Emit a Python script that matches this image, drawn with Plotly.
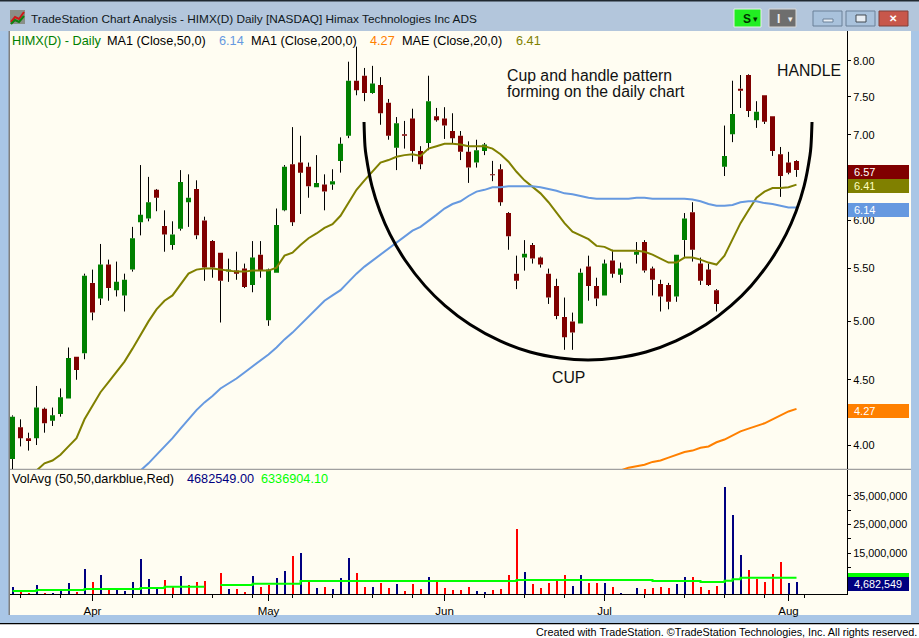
import plotly.graph_objects as go

W, H = 919, 638

opens = [3.90,4.13,4.05,4.05,4.27,4.18,4.23,4.35,4.69,4.72,
5.36,5.21,5.54,5.29,5.24,5.49,5.98,6.02,6.34,5.94,
5.74,5.91,6.20,6.35,6.00,5.78,5.66,5.47,5.48,5.50,
5.34,5.64,5.01,5.46,6.11,6.64,6.66,6.61,6.37,6.40,
6.40,6.68,6.99,7.72,7.79,7.55,7.66,7.42,6.84,7.01,
7.21,6.80,6.90,7.24,7.21,7.05,6.99,6.79,6.66,6.80,
6.52,6.58,6.08,5.45,5.61,5.74,5.61,5.45,5.33,5.04,
5.00,4.98,5.52,5.33,5.24,5.58,5.44,None,5.64,5.77,
5.50,5.35,5.34,5.23,5.79,6.09,5.55,5.49,5.29,6.61,
7.01,7.61,7.80,7.19,7.52,7.24,6.76,6.66,6.68]
highs = [4.22,4.19,4.09,4.45,4.28,4.28,4.43,4.77,4.69,5.45,
5.49,5.75,5.59,5.57,5.45,5.93,6.63,6.49,6.35,6.11,
5.99,6.57,6.52,6.45,6.04,5.79,5.66,5.60,5.67,5.55,
5.78,5.78,5.50,6.13,6.63,7.10,6.99,6.66,6.75,6.52,
6.58,6.97,7.99,8.21,7.90,7.93,7.77,7.47,7.23,7.18,
7.34,6.86,7.79,7.35,7.36,7.28,7.05,6.92,6.94,6.90,
6.68,6.64,6.09,5.63,5.79,5.76,5.62,5.50,5.40,5.22,
5.08,5.50,5.63,5.41,5.59,5.69,5.56,None,5.77,5.79,
5.52,5.39,5.36,5.64,6.08,6.20,5.61,5.55,5.30,7.12,
7.72,7.80,7.81,7.44,7.52,7.24,6.85,6.79,6.69]
lows = [3.83,3.99,3.96,4.00,4.09,4.14,4.21,4.35,4.50,4.67,
5.01,5.15,5.19,5.23,5.09,5.47,5.84,5.99,6.10,5.67,
5.69,5.89,5.93,5.80,5.38,5.41,4.99,5.37,5.39,5.31,
5.27,5.41,4.96,5.46,6.10,5.94,6.07,6.25,6.37,6.11,
6.34,6.54,6.96,7.52,7.44,7.54,7.13,6.94,6.57,6.83,
6.67,6.58,6.81,7.17,6.95,6.89,6.69,6.42,6.60,6.75,
6.44,6.16,5.69,5.30,5.48,5.55,5.51,5.16,5.02,4.75,
4.75,4.98,5.19,5.14,5.24,5.41,5.36,None,5.55,5.46,
5.24,5.09,5.11,5.18,5.61,5.57,5.34,5.33,5.09,6.50,
6.91,7.35,7.23,7.09,7.14,6.74,6.26,6.52,6.49]
closes = [4.21,4.05,4.03,4.28,4.16,4.22,4.36,4.68,4.58,5.43,
5.08,5.54,5.31,5.37,5.39,5.81,6.06,6.20,6.25,5.85,
5.85,6.43,6.25,5.84,5.51,5.51,5.38,5.49,5.45,5.32,
5.61,5.48,5.49,5.95,6.61,5.98,6.54,6.38,6.42,6.32,
6.44,6.89,7.72,7.59,7.55,7.68,7.28,6.99,7.15,6.99,
6.80,6.64,7.44,7.19,7.12,6.96,6.79,6.60,6.81,6.88,
6.51,6.20,5.83,5.38,5.65,5.60,5.54,5.22,5.05,4.86,
4.90,5.46,5.33,5.21,5.55,5.45,5.50,None,5.67,5.48,
5.39,5.23,5.18,5.64,6.02,5.69,5.38,5.34,5.16,6.74,
7.27,7.58,7.31,7.30,7.17,6.80,6.50,6.54,6.57]

ma50 = [None]*16 + [3.82,3.87,3.93,3.99,4.05,4.12,4.19,4.26,4.32,4.37,4.43,4.47,4.51,4.56,4.61,4.66,4.71,4.77,
4.84,4.90,4.97,5.04,5.11,5.19,5.24,5.29,5.37,5.45,5.52,5.58,5.64,5.70,5.76,5.83,5.89,5.93,5.99,6.06,6.13,
6.18,6.21,6.27,6.32,6.34,6.37,6.37,6.38,6.38,6.38,6.38,6.37,6.35,6.33,6.30,6.29,6.27,6.25,6.24,6.24,6.24,
6.24,6.24,6.25,6.25,6.24,6.24,6.24,6.24,6.24,6.23,6.21,6.18,6.16,6.16,6.17,6.20,6.21,6.21,6.19,6.18,6.16,
6.14,6.14]
ma200 = [None]*76 + [3.82,3.84,3.85,3.86,3.88,3.89,3.91,3.93,3.95,3.96,3.98,3.99,4.02,4.04,4.07,4.10,4.12,
4.14,4.16,4.19,4.22,4.25,4.27]
mae = [None]*3 + [3.82,3.87,3.89,3.93,3.99,4.05,4.19,4.29,4.40,4.48,4.56,4.65,4.76,4.88,5.00,5.11,5.19,5.24,
5.35,5.45,5.49,5.50,5.50,5.49,5.48,5.47,5.47,5.48,5.48,5.48,5.51,5.63,5.66,5.74,5.81,5.86,5.92,5.96,6.05,
6.19,6.34,6.45,6.55,6.66,6.69,6.73,6.75,6.76,6.74,6.83,6.86,6.89,6.89,6.88,6.86,6.86,6.86,6.83,6.76,6.67,
6.55,6.45,6.38,6.30,6.20,6.09,5.97,5.88,5.84,5.80,5.73,5.72,5.68,5.68,5.68,5.68,5.67,5.64,5.60,5.56,5.56,
5.61,5.61,5.59,5.56,5.54,5.63,5.80,5.97,6.11,6.25,6.32,6.36,6.36,6.37,6.40]

volume_m = [3.1,1.3,1.0,3.8,1.0,1.0,1.7,4.5,1.3,9.4,
4.8,7.3,2.7,2.0,1.7,4.8,12.9,5.9,2.4,5.5,
3.4,6.9,3.8,4.8,5.2,None,8.0,2.4,2.4,1.3,
6.9,3.1,3.8,6.2,8.7,14.0,15.0,4.8,2.7,3.1,
2.4,6.2,13.2,8.0,3.1,3.1,4.5,2.7,4.1,1.7,
4.1,2.4,6.6,5.5,2.7,2.0,2.0,3.1,1.7,1.3,
2.0,2.4,7.3,23.4,8.3,4.1,2.7,4.5,5.5,7.3,
3.4,7.3,4.5,4.5,4.5,3.1,1.0,None,2.7,2.4,
2.7,3.1,2.7,4.1,6.6,6.6,3.1,2.0,3.4,38.2,
28.3,14.3,9.0,5.9,4.8,7.6,11.8,4.5,4.68]
volume_side = list("brrbrbbbrb" "rbrbbbbbbr" "rbrrrrrbrr" "brrbbrbrbr" "bbbrrbrrbr"
                   "rrbrrrrrbb" "rrrrbrrrrr" "bbrrbrbbbr" "rrrbbrrrrb" "bbrrrrrbb")
volume_avg_m = [1.67,1.67,1.67,2.02,2.02,2.02,2.02,2.02,2.02,2.37,
2.37,2.37,2.37,2.37,2.37,2.37,2.72,2.72,2.72,3.19,
3.19,3.19,3.19,3.19,3.19,None,3.77,3.77,3.77,3.77,
4.24,4.24,4.24,4.24,4.24,4.24,5.18,5.18,5.18,5.18,
5.18,5.18,5.18,5.18,5.18,5.18,5.18,5.18,5.18,5.18,
5.18,5.18,5.18,5.18,5.18,5.18,5.18,5.18,5.18,5.18,
5.18,5.18,5.18,5.53,5.53,5.53,5.53,5.53,5.53,5.53,
5.53,5.53,5.53,5.53,5.53,5.53,5.53,5.53,5.53,5.53,
5.18,5.18,5.18,5.18,5.18,5.18,4.82,4.82,4.82,5.29,
5.76,6.34,6.34,6.34,6.34,6.34,6.34,6.34,6.34]

cup_x = [43.94,44.06,44.19,44.94,45.94,47.19,49.06,51.56,54.06,57.19,60.94,64.69,68.44,71.94,
         75.44,79.19,82.94,86.69,89.81,92.31,94.81,96.69,97.94,98.94,99.69,99.81,99.94]
cup_price = [7.166,6.862,6.752,6.379,6.096,5.850,5.586,5.331,5.145,4.972,4.827,4.731,4.680,4.664,
             4.680,4.731,4.827,4.972,5.145,5.331,5.586,5.850,6.096,6.379,6.752,6.862,7.166]

month_pos = [10, 32, 54, 74, 97]
month_labels = ["Apr", "May", "Jun", "Jul", "Aug"]
minor_x = [1, 6, 15, 20, 25, 30, 35, 40, 45, 50, 59, 64, 69, 79, 84, 89, 94, 99]
price_ticks = [4.0, 4.5, 5.0, 5.5, 6.0, 7.0, 7.5, 8.0]
price_labels = ["4.00", "4.50", "5.00", "5.50", "6.00", "7.00", "7.50", "8.00"]
vol_ticks = [15, 25, 35]
vol_labels = ["15,000,000", "25,000,000", "35,000,000"]
vol_minor = [10, 20, 30]

FONT = "Liberation Sans"
idx = list(range(len(closes)))


def px(x):
    return x / W


def py(y):
    return 1 - y / H


def rect(x0, y0, x1, y1, color, line=None, layer="below"):
    return dict(type="rect", xref="paper", yref="paper", x0=px(x0), x1=px(x1), y0=py(y0), y1=py(y1),
                fillcolor=color, line=dict(width=1 if line else 0, color=line or color), layer=layer)


def zigzag(points, color):
    path = " ".join(("M" if k == 0 else "L") + f"{px(x):.5f},{py(y):.5f}" for k, (x, y) in enumerate(points))
    return dict(type="path", xref="paper", yref="paper", path=path, line=dict(color=color, width=2))


def label(x, y, text, color="#000000", size=12.7, anchor="left"):
    return dict(xref="paper", yref="paper", x=px(x), y=py(y), text=text, showarrow=False,
                xanchor=anchor, yanchor="middle", align="left", borderpad=0,
                font=dict(family=FONT, size=size, color=color))


# wick segments, leaving the body to the candlestick trace
wx, wy = [], []
for i, o, h, l, c in zip(idx, opens, highs, lows, closes):
    if c is None:
        continue
    wx += [i, i, None, i, i, None]
    wy += [h, max(o, c), None, min(o, c), l, None]

fig = go.Figure()
fig.add_trace(go.Bar(x=idx, y=volume_m, yaxis="y2", width=0.25,
                     marker=dict(color=["#000080" if s == "b" else "#FF0000" for s in volume_side], line_width=0)))
fig.add_trace(go.Scatter(x=idx, y=volume_avg_m, yaxis="y2", mode="lines",
                         line=dict(color="#00FF00", width=2, shape="hv")))
fig.add_trace(go.Candlestick(x=idx, open=opens, high=highs, low=lows, close=closes,
                             increasing=dict(line=dict(color="#008000", width=0), fillcolor="#008000"),
                             decreasing=dict(line=dict(color="#800000", width=0), fillcolor="#800000"),
                             whiskerwidth=0))
fig.add_trace(go.Scatter(x=wx, y=wy, mode="lines", line=dict(color="#000000", width=1)))
fig.add_trace(go.Scatter(x=idx, y=mae, mode="lines", line=dict(color="#808000", width=2)))
fig.add_trace(go.Scatter(x=idx, y=ma50, mode="lines", line=dict(color="#6699E0", width=2)))
fig.add_trace(go.Scatter(x=idx, y=ma200, mode="lines", line=dict(color="#FF8000", width=2)))
fig.add_trace(go.Scatter(x=cup_x, y=cup_price, mode="lines", line=dict(color="#000000", width=3, shape="spline")))

shapes = [
    rect(0, 0, W, 624, "#A9C6E6"),
    rect(0, 0, W, 31, "#B3C6DC"),
    rect(0, 0, W, 1.5, "#202830"),
    rect(0, 623, W, 624.5, "#000000"),
    rect(0, 624.5, W, H, "#FFFFFF"),
    rect(9, 31, 911, 615, "#FFFDF2"),
    rect(8.5, 31, 10, 615, "#808080"),
    rect(10, 468.8, 911, 470, "#A0A0A0"),
    # last-value flags
    rect(848, 165, 909, 179, "#800000", layer="above"),
    rect(848, 179, 909, 193, "#808000", layer="above"),
    rect(848, 203, 909, 217, "#6699E0", layer="above"),
    rect(848, 404, 909, 418, "#FF8000", layer="above"),
    rect(848, 573, 909, 577, "#00FF00", layer="above"),
    rect(848, 577, 909, 591, "#000080", layer="above"),
    # window icon and buttons
    rect(10, 10, 25, 24, "#8A8F88"),
    zigzag([(11, 22), (15, 17), (19, 19), (24, 12)], "#D01818"),
    zigzag([(11, 24), (15, 20), (19, 22), (24, 16)], "#108010"),
    rect(734, 9, 761, 27, "#22EE22", line="#E8F0E8"),
    rect(769, 9, 796, 27, "#6E6E6E", line="#D8D8D8"),
    rect(813, 11, 842, 26, "#A9C2DC", line="#6A8098"),
    rect(846, 11, 875, 26, "#A9C2DC", line="#6A8098"),
    rect(879, 11, 908, 26, "#C8574B", line="#80403A"),
    rect(823, 19, 833, 22, "#E8EEF4", line="#6A8098"),
    rect(856, 15, 866, 22, "#E8EEF4", line="#404850"),
]

annotations = [
    label(30, 19, "TradeStation Chart Analysis - HIMX(D) Daily [NASDAQ] Himax Technologies Inc ADS", "#101820", 11.8),
    label(742, 18.5, "<b>S</b>", "#003000", 12),
    label(752, 18.5, "▾", "#003000", 9),
    label(776, 18.5, "<b>I</b>", "#EEEEEE", 12),
    label(787, 18.5, "▾", "#EEEEEE", 9),
    label(888, 18.5, "<b>✕</b>", "#FFFFFF", 10),
    label(11, 41, "HIMX(D) - Daily", "#008000"),
    label(106, 41, "MA1 (Close,50,0)"),
    label(218, 41, "6.14", "#6699E0"),
    label(250, 41, "MA1 (Close,200,0)"),
    label(369, 41, "4.27", "#FF8000"),
    label(401, 41, "MAE (Close,20,0)"),
    label(515, 41, "6.41", "#808000"),
    label(506, 75, "Cup and handle pattern", "#111111", 15.8),
    label(506, 92, "forming on the daily chart", "#111111", 15.8),
    label(776, 70, "HANDLE", "#111111", 15.8),
    label(551, 377, "CUP", "#111111", 15.8),
    label(11, 479, "VolAvg (50,50,darkblue,Red)"),
    label(186, 479, "4682549.00", "#000080"),
    label(260, 479, "6336904.10", "#00FF00"),
    label(853, 172, "6.57", "#FFFFFF", 11),
    label(853, 186, "6.41", "#FFFFC0", 11),
    label(853, 210, "6.14", "#FFFFFF", 11),
    label(853, 411, "4.27", "#FFFFFF", 11),
    label(853, 584, "4,682,549", "#FFFFFF", 10.8),
    label(918, 632, "Created with TradeStation. ©TradeStation Technologies, Inc. All rights reserved.", "#000000", 10.8, "right"),
]

fig.update_layout(
    width=W, height=H, margin=dict(l=0, r=0, t=0, b=0, pad=0), autosize=False,
    paper_bgcolor="#FFFFFF", plot_bgcolor="rgba(0,0,0,0)", showlegend=False, hovermode=False,
    bargap=0, boxgap=0.375, boxgroupgap=0,
    font=dict(family=FONT, size=11, color="#000000"),
    shapes=shapes, annotations=annotations,
    xaxis=dict(domain=[px(10), px(847)], range=[-0.3125, 104.3125], anchor="y2", rangeslider=dict(visible=False),
               showgrid=False, zeroline=False, showline=True, linecolor="#000000", linewidth=1,
               tickmode="array", tickvals=month_pos, ticktext=month_labels, ticks="outside", ticklen=6,
               tickcolor="#000000", tickfont=dict(family=FONT, size=11.5),
               minor=dict(tickmode="array", tickvals=minor_x, ticks="outside", ticklen=3, tickcolor="#000000")),
    yaxis=dict(domain=[py(469), py(31)], type="log", range=[0.58327, 0.92660], side="right", anchor="x",
               showgrid=False, zeroline=False, showline=True, linecolor="#000000", linewidth=1,
               tickmode="array", tickvals=price_ticks, ticktext=price_labels, ticks="outside", ticklen=3,
               tickcolor="#000000", tickfont=dict(family=FONT, size=11)),
    yaxis2=dict(domain=[py(594), py(470)], range=[0.614, 44.12], side="right", anchor="x",
                showgrid=False, zeroline=False, showline=True, linecolor="#000000", linewidth=1,
                tickmode="array", tickvals=vol_ticks, ticktext=vol_labels, ticks="outside", ticklen=3,
                tickcolor="#000000", tickfont=dict(family=FONT, size=10.8),
                minor=dict(tickmode="array", tickvals=vol_minor, ticks="outside", ticklen=3, tickcolor="#000000")),
)

fig.write_html("out.html", config=dict(displayModeBar=False),
               post_script="document.body.style.margin='0';document.body.style.overflow='hidden';")
